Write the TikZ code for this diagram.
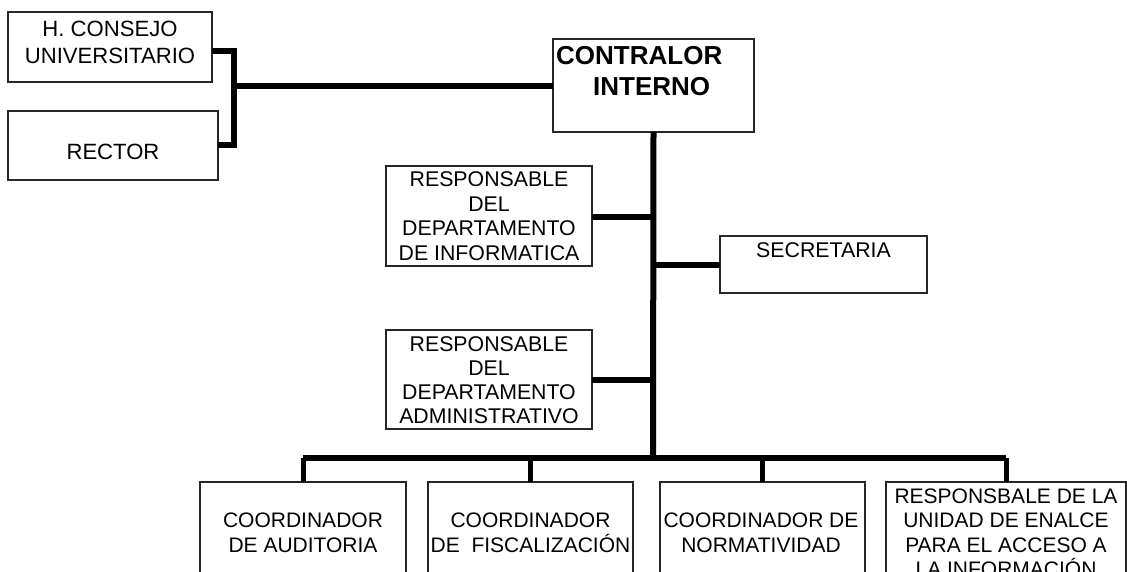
\documentclass[tikz,border=0pt]{standalone}
\usepackage{fontspec}
\setmainfont{Liberation Sans}
\begin{document}
\begin{tikzpicture}[x=1pt,y=-1pt,
  box/.style={draw=black!85, line width=1.3pt, inner sep=0pt, outer sep=0pt, anchor=north west},
  link/.style={line width=6pt, line join=miter, line cap=butt},
  drop/.style={line width=5pt, line cap=butt},
  txt/.style={font=\fontsize{21.3}{24.5}\selectfont, align=center, inner sep=0pt, anchor=base},
  btxt/.style={font=\fontsize{26}{31}\selectfont\bfseries, align=left, inner sep=0pt, anchor=base west}]
\useasboundingbox (0,0) rectangle (1127,572);
\clip (0,0) rectangle (1127,572);
% boxes
\node[box, minimum width=204pt, minimum height=70pt] (consejo) at (8,12) {};
\node[box, minimum width=210pt, minimum height=69pt] (rector) at (8,111) {};
\node[box, minimum width=201pt, minimum height=93pt] (contralor) at (553,39) {};
\node[box, minimum width=206pt, minimum height=100pt] (info) at (386,166) {};
\node[box, minimum width=207pt, minimum height=57pt] (secr) at (720,236) {};
\node[box, minimum width=206pt, minimum height=99pt] (admin) at (386,330) {};
\node[box, minimum width=206pt, minimum height=130pt] (aud) at (200,482) {};
\node[box, minimum width=205pt, minimum height=130pt] (fisc) at (428,482) {};
\node[box, minimum width=205pt, minimum height=130pt] (norm) at (660,482) {};
\node[box, minimum width=240pt, minimum height=130pt] (enl) at (886,482) {};
% texts (anchor at baseline of last line)
\node[txt, font=\fontsize{22.1}{27}\selectfont] (tconsejo) at (110,64) {H. CONSEJO\\UNIVERSITARIO};
\node[txt, font=\fontsize{22.1}{27}\selectfont] (trector) at (113,160) {RECTOR};
\node[btxt] (tcontralor) at (556,96) {CONTRALOR\\\hspace*{37pt}INTERNO};
\node[txt] (tinfo) at (489,260) {RESPONSABLE\\DEL\\DEPARTAMENTO\\DE INFORMATICA};
\node[txt] (tsecr) at (823.5,257) {SECRETARIA};
\node[txt, font=\fontsize{21.3}{23.7}\selectfont] (tadmin) at (489,423) {RESPONSABLE\\DEL\\DEPARTAMENTO\\ADMINISTRATIVO};
\node[txt, font=\fontsize{21}{25}\selectfont] (taud) at (303,552) {COORDINADOR\\DE AUDITORIA};
\node[txt, font=\fontsize{21}{25}\selectfont] (tfisc) at (530.5,552) {COORDINADOR\\DE\ \ FISCALIZACIÓN};
\node[txt, font=\fontsize{21}{25}\selectfont] (tnorm) at (761,552) {COORDINADOR DE\\NORMATIVIDAD};
\node[txt, font=\fontsize{21}{24.5}\selectfont] (tenl) at (1006,576.5) {RESPONSBALE DE LA\\UNIDAD DE ENALCE\\PARA EL ACCESO A\\LA INFORMACIÓN};
% junction coordinates
\coordinate (jl) at (234,86);
\coordinate (jb) at (653,458);
% connectors
\draw[link] (consejo.east |- 0,51) -| (jl) |- (rector.east |- 0,145);
\draw[link] (jl) -- (contralor.west |- jl);
\draw[link] (contralor.south) -- (jb);
\draw[link] (info.east |- 0,217) -- (jb |- 0,217);
\draw[link] (secr.west |- 0,265) -- (jb |- 0,265);
\draw[link] (admin.east |- 0,380) -- (jb |- 0,380);
\draw[link] (aud.north |- jb) -- (enl.north |- jb);
\draw[drop] (aud.north |- jb) -- (aud.north);
\draw[drop] (fisc.north |- jb) -- (fisc.north);
\draw[drop] (norm.north |- jb) -- (norm.north);
\draw[drop] (enl.north |- jb) -- (enl.north);
\end{tikzpicture}
\end{document}
